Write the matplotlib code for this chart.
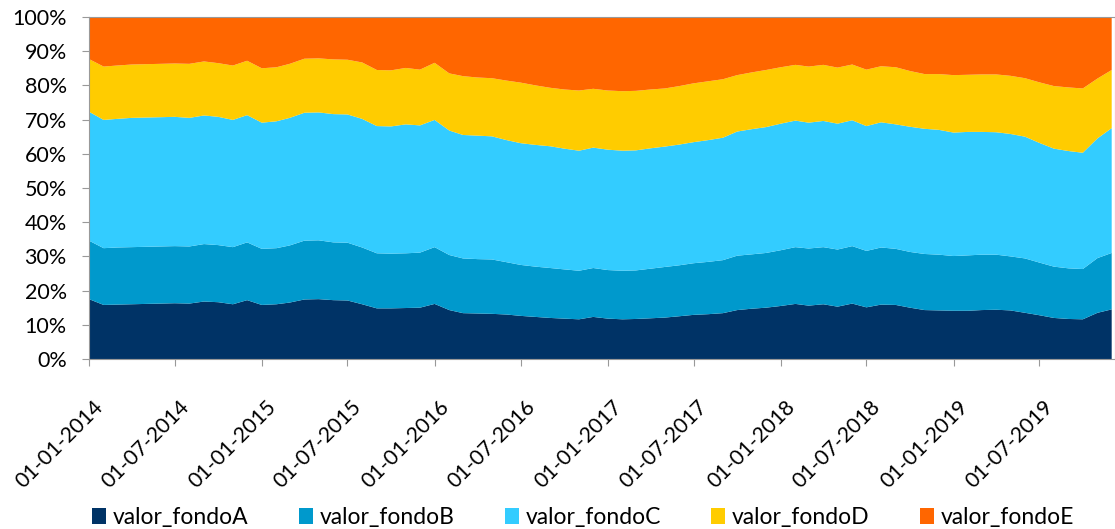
import numpy as np
import pandas as pd
import matplotlib
matplotlib.use("Agg")
import matplotlib.pyplot as plt
import matplotlib.dates as mdates
import matplotlib.transforms as mtransforms
from matplotlib.ticker import PercentFormatter
from matplotlib.patches import Patch

# monthly shares (percent), Jan 2014 .. Dec 2019
fondoA = [17.5, 15.8, 15.9, 16.0, 16.1, 16.2, 16.3, 16.2, 16.8, 16.6, 16.0, 17.2,
          15.8, 16.0, 16.5, 17.4, 17.5, 17.2, 17.1, 16.0, 14.8, 14.8, 14.9, 15.0,
          16.1, 14.3, 13.4, 13.3, 13.2, 13.0, 12.6, 12.3, 12.0, 11.8, 11.6, 12.3,
          11.8, 11.6, 11.7, 11.9, 12.1, 12.5, 12.9, 13.1, 13.4, 14.3, 14.7, 15.0,
          15.5, 16.1, 15.6, 16.0, 15.3, 16.2, 15.1, 15.9, 15.8, 15.0, 14.3, 14.2,
          14.1, 14.1, 14.3, 14.4, 14.2, 13.5, 12.8, 12.0, 11.7, 11.6, 13.5, 14.5]
# cumulative tops of B, C, D
top_B = [34.6, 32.4, 32.6, 32.7, 32.8, 32.9, 33.0, 32.9, 33.6, 33.3, 32.7, 34.1,
         32.2, 32.4, 33.2, 34.6, 34.7, 34.1, 34.0, 32.6, 30.9, 30.8, 30.9, 31.1,
         32.7, 30.4, 29.4, 29.2, 29.1, 28.3, 27.5, 27.0, 26.6, 26.2, 25.8, 26.6,
         26.0, 25.8, 25.9, 26.4, 26.9, 27.4, 28.0, 28.4, 28.9, 30.2, 30.6, 31.0,
         31.8, 32.7, 32.3, 32.7, 32.0, 33.0, 31.6, 32.6, 32.2, 31.3, 30.7, 30.5,
         30.1, 30.3, 30.5, 30.5, 30.0, 29.4, 28.2, 27.0, 26.5, 26.3, 29.5, 31.0]
top_C = [72.3, 69.9, 70.2, 70.5, 70.6, 70.7, 70.8, 70.5, 71.2, 70.8, 69.9, 71.3,
         69.1, 69.5, 70.5, 72.0, 72.1, 71.6, 71.5, 70.2, 68.1, 68.0, 68.6, 68.3,
         69.9, 66.8, 65.5, 65.3, 65.1, 64.0, 63.1, 62.6, 62.2, 61.5, 60.9, 61.8,
         61.2, 60.9, 61.0, 61.6, 62.1, 62.7, 63.4, 64.0, 64.7, 66.5, 67.2, 67.8,
         68.8, 69.7, 69.1, 69.6, 68.8, 69.8, 68.1, 69.2, 68.6, 67.9, 67.3, 67.0,
         66.2, 66.4, 66.4, 66.3, 65.8, 65.0, 63.2, 61.5, 60.8, 60.3, 64.5, 67.5]
top_D = [87.7, 85.5, 85.8, 86.1, 86.2, 86.3, 86.4, 86.3, 87.0, 86.5, 85.8, 87.2,
         85.0, 85.3, 86.3, 87.8, 87.9, 87.6, 87.5, 86.7, 84.5, 84.4, 85.1, 84.6,
         86.6, 83.5, 82.7, 82.3, 82.1, 81.4, 80.8, 80.0, 79.3, 78.8, 78.5, 79.0,
         78.5, 78.3, 78.4, 78.8, 79.1, 79.8, 80.6, 81.2, 81.8, 83.0, 83.8, 84.5,
         85.3, 86.0, 85.5, 86.0, 85.2, 86.1, 84.6, 85.6, 85.3, 84.2, 83.3, 83.3,
         83.0, 83.1, 83.2, 83.2, 82.8, 82.1, 80.9, 79.8, 79.4, 79.1, 82.0, 84.5]

dates = pd.date_range("2014-01-01", periods=len(fondoA), freq="MS")
fondoB = np.array(top_B) - np.array(fondoA)
fondoC = np.array(top_C) - np.array(top_B)
fondoD = np.array(top_D) - np.array(top_C)
fondoE = 100 - np.array(top_D)

labels = ["valor_fondoA", "valor_fondoB", "valor_fondoC", "valor_fondoD", "valor_fondoE"]
colors = ["#003366", "#0099CC", "#33CCFF", "#FFCC00", "#FF6600"]

plt.rcParams["font.family"] = ["Lato", "DejaVu Sans"]

fig = plt.figure(figsize=(11.15, 5.29), dpi=100)
ax = fig.add_axes([0.0798, 0.3214, 0.9202, 0.6465])
ax.stackplot(dates, fondoA, fondoB, fondoC, fondoD, fondoE, colors=colors, labels=labels)

ax.set_ylim(0, 100)
ax.set_xlim(dates[0], dates[-1] + pd.Timedelta(days=7))
ax.yaxis.set_major_locator(plt.MultipleLocator(10))
ax.yaxis.set_major_formatter(PercentFormatter(decimals=0))
ax.xaxis.set_major_locator(mdates.MonthLocator(bymonth=[1, 7]))
ax.xaxis.set_major_formatter(mdates.DateFormatter("%d-%m-%Y"))

for s in ax.spines.values():
    s.set_color("#999999")
ax.tick_params(axis="both", colors="#999999", labelcolor="black", length=5)
ax.tick_params(axis="y", labelsize=15.5, pad=11)
ax.tick_params(axis="x", labelsize=15.3, pad=22)
shift = mtransforms.ScaledTranslation(4 / 100, 0, fig.dpi_scale_trans)
for lbl in ax.get_xticklabels():
    lbl.set_rotation(45)
    lbl.set_ha("right")
    lbl.set_va("top")
    lbl.set_rotation_mode("anchor")
    lbl.set_transform(lbl.get_transform() + shift)

handles = [Patch(facecolor=c, label=l) for c, l in zip(colors, labels)]
fig.legend(handles=handles, loc="center", ncol=5, frameon=False, fontsize=16.5,
           bbox_to_anchor=(0.523, 0.022), handlelength=0.6, handleheight=0.7,
           handletextpad=0.3, columnspacing=2.2)

fig.savefig("out.png", dpi=100)
